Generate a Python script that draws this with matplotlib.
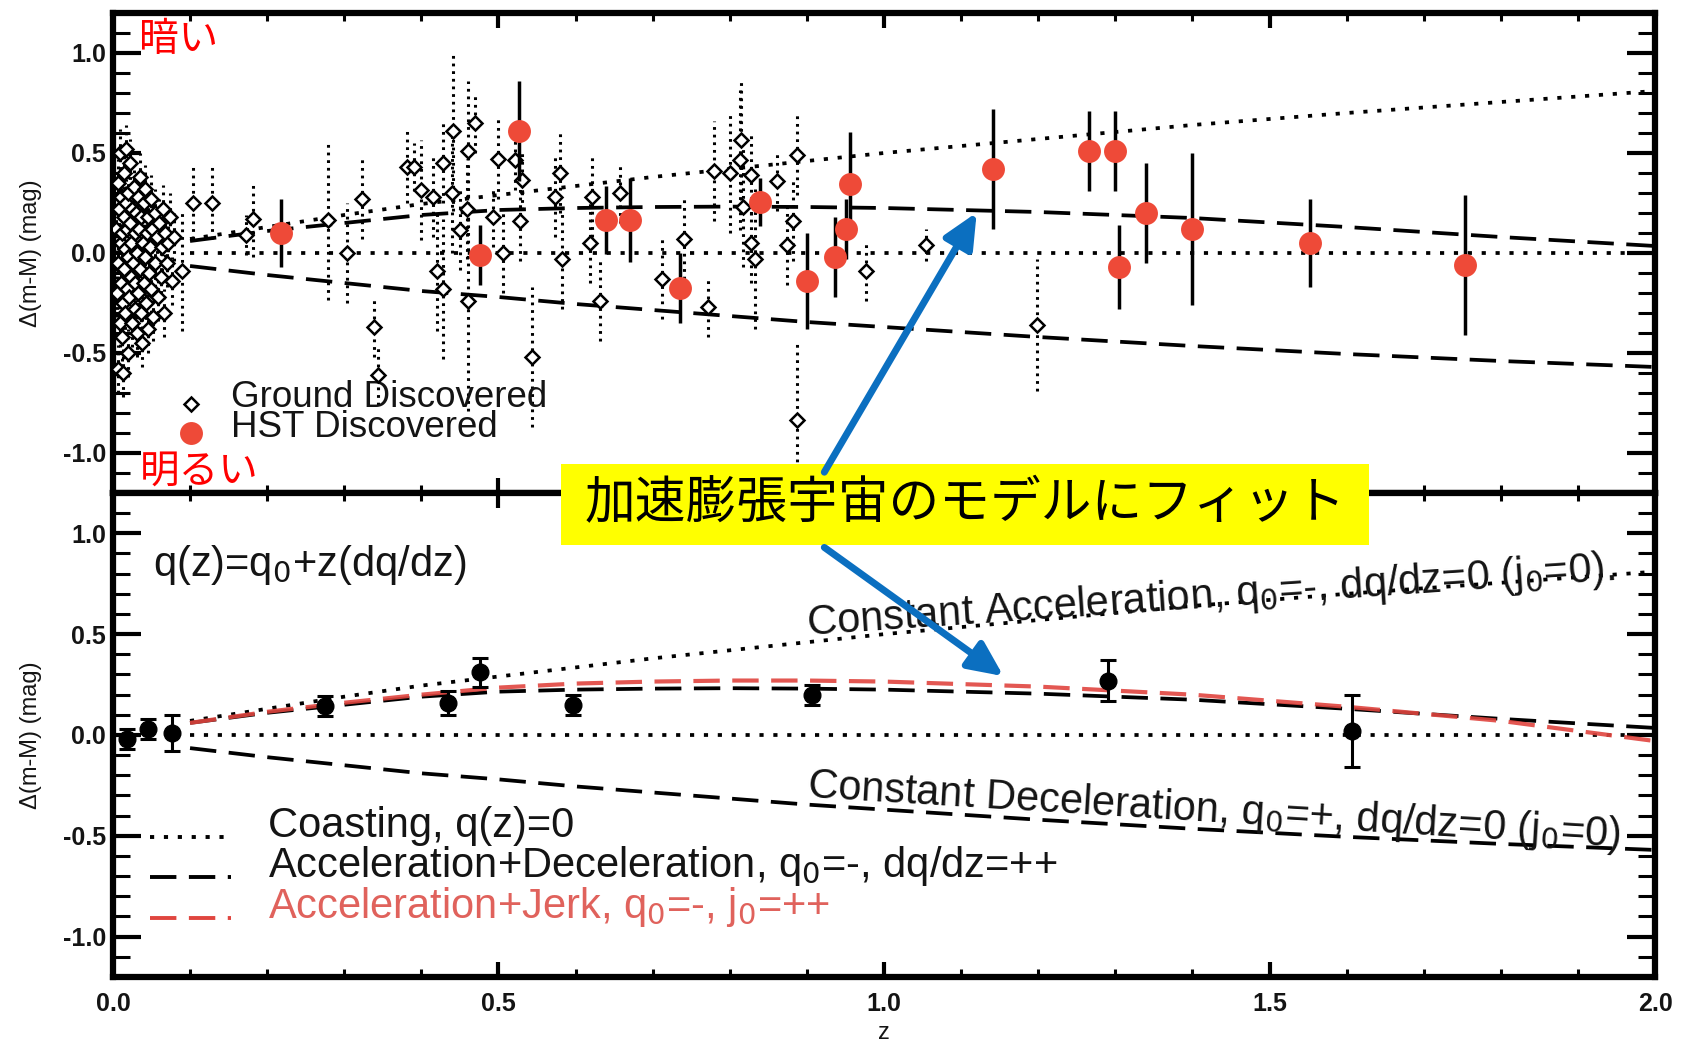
import matplotlib
matplotlib.use("Agg")
import matplotlib.pyplot as plt
from matplotlib.lines import Line2D
from matplotlib.patches import Rectangle, FancyArrowPatch, ArrowStyle
from matplotlib.ticker import MultipleLocator

plt.rcParams["font.family"] = ["Liberation Sans", "Noto Sans CJK JP", "DejaVu Sans"]
plt.rcParams["axes.unicode_minus"] = False
plt.rcParams["lines.scale_dashes"] = False

W, H = 1683, 1048  # output size in pixels

# --- supernova Hubble residuals ------------------------------------------
# nearby (low-z) ground-based sample
lowz_z = [0.004, 0.005, 0.006, 0.006, 0.007, 0.008, 0.009, 0.009, 0.010, 0.010,
          0.011, 0.012, 0.012, 0.013, 0.013, 0.014, 0.014, 0.015, 0.016, 0.016,
          0.017, 0.017, 0.018, 0.018, 0.019, 0.020, 0.020, 0.021, 0.022, 0.022,
          0.023, 0.024, 0.025, 0.025, 0.026, 0.027, 0.028, 0.028, 0.029, 0.030,
          0.031, 0.031, 0.032, 0.033, 0.034, 0.035, 0.035, 0.036, 0.037, 0.038,
          0.039, 0.040, 0.040, 0.041, 0.042, 0.043, 0.044, 0.045, 0.046, 0.047,
          0.048, 0.049, 0.050, 0.051, 0.052, 0.054, 0.055, 0.057, 0.058, 0.060,
          0.062, 0.063, 0.065, 0.066, 0.068, 0.070, 0.072, 0.074, 0.076, 0.079]
lowz_dm = [0.12, -0.20, 0.35, -0.58, -0.05, 0.22, -0.35, 0.50, 0.05, -0.15,
           0.28, -0.42, 0.10, -0.25, -0.60, 0.18, -0.08, 0.40, -0.30, 0.02,
           0.25, 0.52, -0.18, 0.12, -0.50, 0.30, -0.02, -0.22, 0.15, 0.45,
           -0.12, 0.05, -0.35, 0.22, -0.05, 0.33, -0.28, 0.10, -0.15, 0.20,
           -0.40, 0.00, 0.28, -0.20, 0.12, -0.08, 0.38, -0.30, 0.18, -0.45,
           0.05, 0.25, -0.15, -0.02, 0.32, -0.25, 0.10, -0.38, 0.18, -0.10,
           0.03, 0.27, -0.18, 0.12, -0.32, 0.20, -0.05, 0.08, -0.22, 0.15,
           -0.12, 0.03, 0.22, -0.30, 0.10, -0.05, 0.05, 0.18, -0.14, 0.08]
lowz_err = 0.12

# intermediate / high-z ground-discovered SNe
ground_z = [0.089, 0.104, 0.128, 0.173, 0.182, 0.279, 0.303, 0.323, 0.338, 0.344,
            0.381, 0.390, 0.400, 0.415, 0.420, 0.428, 0.428, 0.441, 0.440, 0.450,
            0.459, 0.461, 0.461, 0.470, 0.493, 0.500, 0.506, 0.521, 0.528, 0.530,
            0.543, 0.573, 0.580, 0.582, 0.619, 0.621, 0.632, 0.658, 0.712, 0.740,
            0.772, 0.779, 0.800, 0.813, 0.815, 0.817, 0.828, 0.828, 0.833, 0.861,
            0.874, 0.882, 0.887, 0.887, 0.977, 1.055, 1.198]
ground_dm = [-0.09, 0.25, 0.25, 0.09, 0.17, 0.165, 0.00, 0.27, -0.37, -0.61,
             0.43, 0.43, 0.315, 0.28, -0.09, -0.18, 0.45, 0.61, 0.30, 0.115,
             0.22, 0.51, -0.24, 0.65, 0.18, 0.47, 0.00, 0.465, 0.16, 0.365,
             -0.52, 0.28, 0.40, -0.03, 0.05, 0.28, -0.24, 0.30, -0.13, 0.07,
             -0.27, 0.41, 0.40, 0.465, 0.565, 0.23, 0.39, 0.05, -0.03, 0.36,
             0.04, 0.16, 0.49, -0.835, -0.09, 0.04, -0.36]
ground_err = [0.30, 0.18, 0.18, 0.10, 0.19, 0.40, 0.25, 0.20, 0.15, 0.15,
              0.18, 0.12, 0.25, 0.20, 0.30, 0.35, 0.20, 0.40, 0.30, 0.20,
              0.25, 0.35, 0.55, 0.15, 0.15, 0.20, 0.20, 0.15, 0.20, 0.15,
              0.35, 0.20, 0.20, 0.25, 0.20, 0.20, 0.20, 0.15, 0.20, 0.20,
              0.15, 0.25, 0.30, 0.35, 0.30, 0.30, 0.20, 0.20, 0.35, 0.15,
              0.20, 0.20, 0.20, 0.40, 0.15, 0.08, 0.33]

# HST-discovered SNe
hst_z = [0.218, 0.476, 0.526, 0.640, 0.670, 0.735, 0.839, 0.900, 0.937, 0.951,
         0.956, 1.141, 1.266, 1.300, 1.305, 1.340, 1.399, 1.552, 1.754]
hst_dm = [0.10, -0.01, 0.61, 0.165, 0.165, -0.175, 0.255, -0.14, -0.02, 0.12,
          0.345, 0.42, 0.51, 0.51, -0.07, 0.20, 0.12, 0.05, -0.06]
hst_err = [0.17, 0.15, 0.25, 0.17, 0.21, 0.175, 0.12, 0.24, 0.20, 0.15,
           0.26, 0.30, 0.20, 0.20, 0.21, 0.25, 0.38, 0.22, 0.35]

# binned residuals (lower panel)
bin_z = [0.018, 0.046, 0.076, 0.275, 0.435, 0.476, 0.597, 0.907, 1.291, 1.607]
bin_dm = [-0.02, 0.03, 0.01, 0.145, 0.16, 0.31, 0.15, 0.20, 0.27, 0.02]
bin_err = [0.05, 0.05, 0.09, 0.05, 0.06, 0.07, 0.05, 0.05, 0.10, 0.18]

# --- kinematic model curves ------------------------------------------------
model_z = [0.1, 0.2, 0.3, 0.4, 0.5, 0.6, 0.7, 0.8, 0.9, 1.0, 1.2, 1.4, 1.6, 1.8, 2.0]
coast_z = [0.1, 2.0]
coast_dm = [0.0, 0.0]
const_acc = [0.07, 0.13, 0.19, 0.245, 0.29, 0.335, 0.38, 0.42, 0.46, 0.50,
             0.57, 0.64, 0.70, 0.755, 0.81]
acc_dec = [0.06, 0.11, 0.15, 0.19, 0.215, 0.225, 0.23, 0.232, 0.23, 0.225,
           0.205, 0.175, 0.13, 0.08, 0.035]
acc_jerk = [0.06, 0.115, 0.16, 0.20, 0.235, 0.255, 0.265, 0.27, 0.27, 0.265,
            0.24, 0.20, 0.14, 0.07, -0.03]
const_dec = [-0.065, -0.11, -0.15, -0.19, -0.22, -0.255, -0.285, -0.315, -0.345,
             -0.37, -0.42, -0.465, -0.505, -0.54, -0.57]

x_ticks = [0.0, 0.5, 1.0, 1.5, 2.0]
x_labels = ["0.0", "0.5", "1.0", "1.5", "2.0"]
y_ticks = [-1.0, -0.5, 0.0, 0.5, 1.0]
y_labels = ["-1.0", "-0.5", "0.0", "0.5", "1.0"]

RED = "#ee4a38"
JERK_RED = "#e0453f"
TXT = "#141414"
DOT = (0, (3, 7))
DASH = (0, (19, 9))


def style_axis(ax):
    ax.set_xlim(0, 2.0)
    ax.set_ylim(-1.2, 1.2)
    for sp in ax.spines.values():
        sp.set_linewidth(4.5)
    ax.xaxis.set_minor_locator(MultipleLocator(0.1))
    ax.yaxis.set_minor_locator(MultipleLocator(0.1))
    ax.set_xticks(x_ticks)
    ax.set_yticks(y_ticks)
    ax.set_yticklabels(y_labels, fontsize=18, fontweight="bold", color=TXT)
    ax.tick_params(which="both", direction="in", top=True, right=True)
    ax.tick_params(axis="y", which="major", length=20, width=3, pad=5)
    ax.tick_params(axis="y", which="minor", length=12, width=2.2)
    ax.tick_params(axis="x", which="major", length=11, width=3, pad=11)
    ax.tick_params(axis="x", which="minor", length=6, width=2.2)
    ax.set_ylabel("Δ(m-M) (mag)", fontsize=17, color=TXT)
    ax.yaxis.set_label_coords(-0.046, 0.5)


fig = plt.figure(figsize=(W / 100, H / 100), dpi=100)
ax1 = fig.add_axes([0.0671, 0.52958, 0.9163, 0.45802])
ax2 = fig.add_axes([0.0671, 0.06775, 0.9163, 0.46183])
style_axis(ax1)
style_axis(ax2)
ax1.tick_params(labelbottom=False)
ax2.set_xticklabels(x_labels, fontsize=18, fontweight="bold", color=TXT)
ax2.set_xlabel("z", fontsize=17, color=TXT, labelpad=4)

# ---- upper panel: individual SNe ----
line_kw = dict(color="k", lw=2.7)
ax1.plot(coast_z, coast_dm, ls=DOT, zorder=2, **line_kw)
ax1.plot(model_z, const_acc, ls=DOT, zorder=2, **line_kw)
ax1.plot(model_z, acc_dec, ls=DASH, zorder=2, **line_kw)
ax1.plot(model_z, const_dec, ls=DASH, zorder=2, **line_kw)

eb = ax1.errorbar(lowz_z + ground_z, lowz_dm + ground_dm,
                  yerr=[lowz_err] * len(lowz_z) + ground_err,
                  fmt="D", ms=7, mfc="white", mec="k", mew=1.8,
                  ecolor="k", elinewidth=2.2, capsize=0, zorder=3)
eb[2][0].set_linestyle((0, (2, 3.5)))

ax1.errorbar(hst_z, hst_dm, yerr=hst_err, fmt="o", ms=16.5, color=RED,
             mec="none", ecolor="k", elinewidth=2.5, capsize=0, zorder=5)

# legend of the upper panel
ax1.plot([0.0506], [0.186], "D", ms=7, mfc="white", mec="k", mew=1.8,
         transform=ax1.transAxes, clip_on=False)
ax1.plot([0.0506], [0.124], "o", ms=16.5, color=RED, mec="none",
         transform=ax1.transAxes, clip_on=False)
ax1.text(0.0765, 0.179, "Ground Discovered", transform=ax1.transAxes,
         fontsize=26.5, color=TXT, va="baseline")
ax1.text(0.0765, 0.117, "HST Discovered", transform=ax1.transAxes,
         fontsize=26.5, color=TXT, va="baseline")

# ---- lower panel: binned data and models ----
ax2.plot(coast_z, coast_dm, ls=DOT, zorder=2, **line_kw)
ax2.plot(model_z, const_acc, ls=DOT, zorder=2, **line_kw)
ax2.plot(model_z, const_dec, ls=DASH, zorder=2, **line_kw)
ax2.plot(model_z, acc_dec, ls=DASH, zorder=3, **line_kw)
ax2.plot(model_z, acc_jerk, ls=DASH, color=JERK_RED, lw=3.0, alpha=0.9, zorder=3)
ax2.errorbar(bin_z, bin_dm, yerr=bin_err, fmt="o", ms=12, color="k",
             elinewidth=2.2, capsize=5.5, capthick=2.2, zorder=4)

ax2.text(0.0263, 0.8285, "q(z)=q$_0$+z(dq/dz)", transform=ax2.transAxes,
         fontsize=30, color=TXT, va="baseline")

legend_rows = [
    (0.289, dict(color="k", ls=DOT), "Coasting, q(z)=0", TXT),
    (0.207, dict(color="k", ls=DASH), "Acceleration+Deceleration, q$_0$=-, dq/dz=++", TXT),
    (0.122, dict(color=JERK_RED, ls=DASH), "Acceleration+Jerk, q$_0$=-, j$_0$=++", "#e0625c"),
]
for y, kw, label, tc in legend_rows:
    ax2.add_line(Line2D([0.024, 0.0765], [y, y], lw=2.8, transform=ax2.transAxes, **kw))
    ax2.text(0.1005, y, label, transform=ax2.transAxes, fontsize=30,
             color=tc, va="baseline")

ax2.text(0.450, 0.706, "Constant Acceleration, q$_0$=-, dq/dz=0 (j$_0$=0).",
         transform=ax2.transAxes, fontsize=30, color=TXT, rotation=3.9,
         rotation_mode="anchor", ha="left", va="baseline")
ax2.text(0.450, 0.371, "Constant Deceleration, q$_0$=+, dq/dz=0 (j$_0$=0)",
         transform=ax2.transAxes, fontsize=30, color=TXT, rotation=-3.5,
         rotation_mode="anchor", ha="left", va="baseline")


# ---- figure-level annotations ----
def fpx(x, y):
    return x / W, 1 - y / H


fig.text(*fpx(139.5, 40), "暗い", fontsize=28.5, color="red",
         family=["Noto Sans CJK JP"], ha="left", va="center")
fig.text(*fpx(139.5, 472), "明るい", fontsize=28.5, color="red",
         family=["Noto Sans CJK JP"], ha="left", va="center")

bx0, by0 = fpx(561.3, 545.2)
bx1, by1 = fpx(1368.5, 463.7)
fig.patches.append(Rectangle((bx0, by0), bx1 - bx0, by1 - by0, transform=fig.transFigure,
                             facecolor="#ffff00", edgecolor="none", zorder=5))
fig.text(*fpx(964.9, 504.5), "加速膨張宇宙のモデルにフィット", fontsize=36.5,
         color="black", family=["Noto Sans CJK JP"], ha="center", va="center",
         zorder=6)

head = ArrowStyle("-|>", head_length=1.4, head_width=0.65)
for start, end in [((824.3, 472.2), (976.7, 212.5)),
                   ((824.3, 547.4), (1003.5, 676.2))]:
    fig.patches.append(FancyArrowPatch(fpx(*start), fpx(*end), transform=fig.transFigure,
                                       arrowstyle=head, mutation_scale=15, lw=5,
                                       color="#0b6fc0", shrinkA=0, shrinkB=0, zorder=7))

fig.savefig("out.png", dpi=100)
